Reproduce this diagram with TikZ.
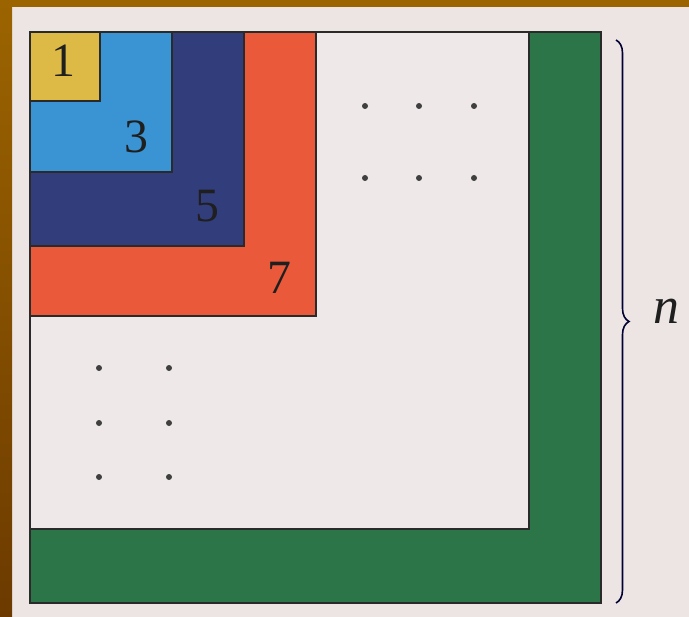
\documentclass[tikz,border=0pt]{standalone}
\usepackage{fontspec}
\setmainfont{Liberation Serif}
\usetikzlibrary{decorations.pathreplacing}
\definecolor{paper}{HTML}{EDE5E4}
\definecolor{frameA}{HTML}{9C6400}
\definecolor{frameB}{HTML}{6C3A00}
\definecolor{cyel}{HTML}{DDBA46}
\definecolor{cblue}{HTML}{3A94D3}
\definecolor{cnavy}{HTML}{323D7C}
\definecolor{cred}{HTML}{EA5A3A}
\definecolor{cgreen}{HTML}{2C7548}
\definecolor{cwhite}{HTML}{EEE8E8}
\definecolor{edge}{HTML}{2A2A2A}
\tikzset{
  block/.style={draw=edge, line width=1.4bp},
  dot/.style={circle, fill=edge!90, inner sep=0pt, minimum size=6bp},
  numlab/.style={font=\fontsize{48}{48}\selectfont, text=black!88, inner sep=0pt},
}
\begin{document}
\begin{tikzpicture}[x=1bp,y=-1bp]
\useasboundingbox (0,0) rectangle (689,617);
\fill[paper] (0,0) rectangle (689,617);
\fill[frameA] (0,0) rectangle (689,7);
\shade[top color=frameA, bottom color=frameB] (0,0) rectangle (12,617);
% nested squares
\path[block, fill=cgreen] (30,32) rectangle (601,603);
\path[block, fill=cwhite] (30,32) rectangle (529,529);
\path[block, fill=cred] (30,32) rectangle (316,316);
\path[block, fill=cnavy] (30,32) rectangle (244,246);
\path[block, fill=cblue] (30,32) rectangle (172,172);
\path[block, fill=cyel] (30,32) rectangle (100,101);
% labels
\node[numlab] (l1) at (63,61) {1};
\node[numlab] (l3) at (136,137) {3};
\node[numlab] (l5) at (207,206) {5};
\node[numlab] (l7) at (279,278) {7};
% dots
\foreach \x [count=\i] in {365,419,474}{
  \node[dot] (da\i) at (\x,106) {};
  \node[dot] (db\i) at (\x,178) {};
}
\foreach \y [count=\i] in {368,423,477}{
  \node[dot] (dc\i) at (99,\y) {};
  \node[dot] (dd\i) at (169,\y) {};
}
% brace
\coordinate (bt) at (616,40);
\coordinate (bb) at (616,603);
\draw[decorate, decoration={brace, amplitude=13bp}, line width=1.6bp, draw=black!80!blue] (bt) -- (bb);
\node[font=\fontsize{52}{52}\selectfont\itshape, text=black!88, inner sep=0pt] (nlab) at (666,311) {n};
\end{tikzpicture}
\end{document}
